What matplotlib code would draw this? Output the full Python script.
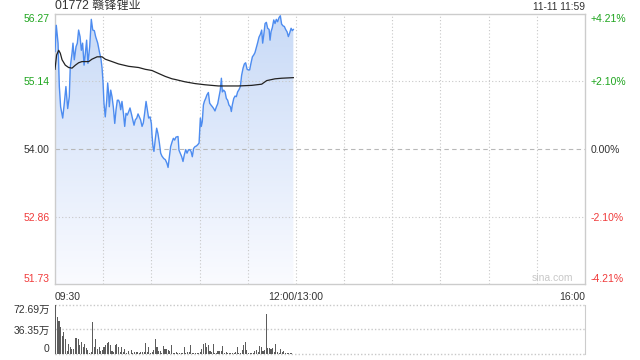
import numpy as np
import matplotlib
matplotlib.use("Agg")
import matplotlib.pyplot as plt
from matplotlib.colors import LinearSegmentedColormap
from matplotlib.patches import Polygon

# ---------------- data ----------------
title = "01772 赣锋锂业"
stamp = "11-11 11:59"
prev_close = 54.00
price_ticks = [51.73, 52.86, 54.00, 55.14, 56.27]
pct_labels = ["-4.21%", "-2.10%", "0.00%", "+2.10%", "+4.21%"]
time_labels = ["09:30", "12:00/13:00", "16:00"]
time_label_pos = [0, 150, 330]          # session minutes
vol_ticks = [0, 36.35, 72.69]
vol_labels = ["0", "36.35万", "72.69万"]

# minutes since 09:30 (trading minutes) and price
price_min = [
    0.0, 0.8, 1.9, 2.7, 3.5, 4.8, 5.8, 6.8, 7.9, 8.9, 9.5, 10.6, 11.2, 12.0, 13.1, 13.9,
    14.7, 15.6, 16.4, 17.2, 18.1, 18.9, 19.7, 20.5, 21.6, 22.6, 23.5, 24.5, 25.3, 26.6,
    27.6, 28.6, 29.3, 29.9, 30.5, 31.3, 32.2, 32.8, 33.4, 33.8, 34.7, 35.5, 36.3, 37.2,
    38.0, 38.8, 39.6, 40.3, 40.9, 41.7, 42.6, 43.4, 44.2, 45.0, 45.9, 46.7, 47.5, 48.4,
    49.2, 50.0, 50.9, 51.7, 52.5, 53.3, 54.2, 55.0, 55.8, 56.7, 57.5, 58.3, 59.2, 60.0,
    60.4, 61.0, 61.6, 62.5, 63.3, 64.1, 65.0, 65.8, 66.6, 67.7, 68.7, 69.7, 70.4, 71.2,
    72.0, 72.9, 73.7, 74.5, 75.3,
    76.6, 77.2, 78.0, 78.9, 79.7, 80.5, 81.4, 82.2, 83.0, 83.9, 84.7, 85.5, 86.3, 87.2,
    88.0, 88.8, 89.7, 90.5, 91.1, 91.7, 92.4, 93.0, 93.8, 94.6, 95.5, 96.3, 97.1, 98.0,
    98.8, 99.6, 100.5, 101.3, 102.1, 102.9, 103.6, 104.2, 105.0, 105.9, 106.7, 107.5,
    108.3, 109.2, 109.8, 110.4, 111.3, 112.1, 112.9, 113.7, 114.6, 115.4, 116.2, 117.1,
    117.9, 118.7, 119.6, 120.4, 121.2, 122.0, 122.9, 123.7, 124.5, 125.4, 126.2, 127.0,
    127.9, 128.7, 129.3, 129.9, 130.8, 131.6, 132.4, 133.3, 133.9, 134.5, 135.3, 136.2,
    137.0, 137.8, 138.6, 139.5, 140.3, 141.1, 142.0, 142.8, 143.6, 144.5, 145.3, 146.1,
    147.0, 147.8, 148.4,
]
price = [
    55.64, 56.08, 55.78, 55.05, 54.71, 54.52, 54.77, 55.05, 54.68, 54.88, 55.38, 55.61,
    55.78, 55.50, 55.72, 55.78, 56.00, 55.89, 55.66, 55.78, 55.41, 55.61, 55.83, 55.44,
    55.72, 56.18, 56.00, 55.99, 55.89, 55.78, 55.64, 55.52, 55.36, 55.13, 54.77, 54.54,
    54.82, 55.11, 54.94, 54.71, 54.99, 54.88, 54.71, 54.43, 54.66, 54.82, 54.82, 54.77,
    54.66, 54.80, 54.60, 54.38, 54.60, 54.57, 54.63, 54.69, 54.60, 54.49, 54.40, 54.49,
    54.52, 54.59, 54.54, 54.49, 54.38, 54.44, 54.60, 54.80, 54.66, 54.52, 54.54, 54.43,
    54.24, 54.04, 53.96, 54.18, 54.35, 54.26, 54.10, 53.93, 53.88, 53.84, 53.82, 53.76,
    53.69, 53.87, 54.04, 54.12, 54.18, 54.15, 54.20,
    54.21, 53.98, 53.93, 53.87, 53.79, 53.90, 53.99, 53.93, 53.98, 53.99, 53.96, 53.87,
    54.01, 54.04, 54.05, 54.07, 54.10, 54.52, 54.38, 54.46, 54.74, 54.80, 54.85, 54.91,
    54.95, 54.77, 54.74, 54.71, 54.68, 54.64, 54.71, 54.76, 54.88, 54.99, 55.19, 54.96,
    54.99, 54.96, 54.85, 54.82, 54.74, 54.71, 54.63, 54.74, 54.85, 54.89, 54.88, 54.96,
    55.00, 55.05, 55.24, 55.36, 55.43, 55.45, 55.34, 55.33, 55.33, 55.44, 55.55, 55.58,
    55.62, 55.71, 55.79, 55.88, 55.93, 56.00, 55.78, 55.90, 56.11, 56.13, 56.03, 56.01,
    55.83, 55.97, 56.04, 56.17, 56.11, 56.18, 56.14, 56.21, 56.24, 56.10, 56.07, 56.06,
    56.01, 55.97, 55.89, 55.95, 56.03, 55.99, 56.01,
]

avg_min = [0.0, 1.0, 2.3, 3.3, 4.4, 6.4, 8.5, 10.6, 12.7, 14.7, 16.8, 21.0, 23.0, 26.2,
           29.3, 31.3, 35.5, 39.6, 45.9, 52.1, 56.2, 60.4, 64.5, 68.7, 72.9, 74.7, 80.9,
           87.2, 93.4, 101.7, 114.2, 122.5, 128.7, 131.8, 137.0, 141.1, 148.4]
avg_price = [55.34, 55.58, 55.66, 55.61, 55.50, 55.41, 55.37, 55.36, 55.41, 55.45, 55.47,
             55.47, 55.51, 55.55, 55.55, 55.51, 55.47, 55.43, 55.39, 55.37, 55.34, 55.32,
             55.27, 55.22, 55.18, 55.17, 55.13, 55.10, 55.08, 55.06, 55.06, 55.07, 55.09,
             55.15, 55.18, 55.19, 55.20]

# volume per minute (万股)
volume = [
    72.7, 55, 49, 40, 27, 33, 22, 5, 15, 11,
    8, 8, 24, 24, 22, 13, 18, 11, 15, 9,
    6, 2, 3, 47, 10, 22, 7, 11, 4, 6, 11,
    14, 17, 18, 13, 5, 3, 13, 15, 11, 3,
    10, 3, 7, 2, 4, 0.5, 6, 2, 3, 3,
    3, 2, 3, 3, 3, 17, 3, 10, 2, 3,
    6, 22, 10, 4, 4, 2, 12, 7, 8, 6,
    4, 14, 1, 2,
    3, 2, 2, 2, 1, 10, 2, 3, 3, 13, 1, 2, 2, 1, 2, 3, 8, 15, 17, 11, 14, 4, 3, 15, 1, 2,
    4, 5, 4, 12, 2, 3, 1, 2, 2, 2, 1, 3, 11, 2, 2, 6, 13, 18, 6, 2, 2, 2, 2, 4, 6, 3, 12,
    10, 4, 6, 59, 9, 9, 7, 9, 3, 15, 3, 2, 7, 3, 4, 1, 1, 2, 1, 1, 0.5,
]

# ---------------- style ----------------
W, H = 640, 360
GREEN = "#1ea51e"
RED = "#f03a3a"
DARK = "#333333"
GRID = "#c8c8c8"
FRAME = "#cccccc"
LINE = "#4d8cf0"
FONT = ["Liberation Sans", "Noto Sans CJK SC", "DejaVu Sans"]
plt.rcParams["font.family"] = FONT

fig = plt.figure(figsize=(W / 100, H / 100), dpi=100)
fig.patch.set_facecolor("white")


def fx(px):
    return px / W


def fy(py):
    return 1 - py / H


# ---------------- main price axes ----------------
L, R, T, B = 55, 585, 14, 284
ax = fig.add_axes([fx(L), fy(B), (R - L) / W, (B - T) / H])
ymin, ymax = price_ticks[0], price_ticks[-1]
xmax = time_label_pos[-1]

verts = list(zip(price_min, price)) + [(price_min[-1], ymin), (price_min[0], ymin)]
patch = Polygon(verts, closed=True, facecolor="none", edgecolor="none")
ax.add_patch(patch)
cmap = LinearSegmentedColormap.from_list("g", ["#fafbff", "#c8daf7"])
grad = np.linspace(0, 1, 256).reshape(-1, 1)
im = ax.imshow(grad, extent=[0, xmax, ymin, ymax], origin="lower", aspect="auto",
               cmap=cmap, zorder=1, interpolation="bilinear")
im.set_clip_path(patch)

ax.plot(price_min, price, color=LINE, lw=1.0, zorder=4)
ax.plot(avg_min, avg_price, color="#222222", lw=0.9, zorder=5)

ax.set_xlim(0, xmax)
ax.set_ylim(ymin, ymax)

for v in price_ticks[1:-1]:
    if v == prev_close:
        ax.axhline(v, color="#b8b8b8", lw=0.8, ls=(0, (4, 3)), zorder=2)
    else:
        ax.axhline(v, color=GRID, lw=0.8, ls=(0, (1, 2)), zorder=2)
for m in range(30, xmax, 30):
    ax.axvline(m, color=GRID, lw=0.8, ls=(0, (1, 2)), zorder=2)

for s in ax.spines.values():
    s.set_color(FRAME)
    s.set_linewidth(1.0)

ax.set_xticks([])
ax.set_yticks(price_ticks)
ax.set_yticklabels([f"{v:.2f}" for v in price_ticks])
ax.tick_params(axis="y", length=0, pad=4, labelsize=7.5)
for lbl, v in zip(ax.get_yticklabels(), price_ticks):
    lbl.set_color(GREEN if v > prev_close else (RED if v < prev_close else DARK))
ax.get_yticklabels()[0].set_verticalalignment("bottom")
ax.get_yticklabels()[-1].set_verticalalignment("top")

ax2 = ax.twinx()
ax2.set_ylim(ymin, ymax)
ax2.set_yticks(price_ticks)
ax2.set_yticklabels(pct_labels)
ax2.tick_params(axis="y", length=0, pad=4, labelsize=7.5)
for lbl, v in zip(ax2.get_yticklabels(), price_ticks):
    lbl.set_color(GREEN if v > prev_close else (RED if v < prev_close else DARK))
ax2.get_yticklabels()[0].set_verticalalignment("bottom")
ax2.get_yticklabels()[-1].set_verticalalignment("top")
for s in ax2.spines.values():
    s.set_visible(False)

ax.text(0.977, 0.002, "sina.com", transform=ax.transAxes, ha="right", va="bottom",
        color="#c8c8c8", fontsize=7.5, zorder=6)

# x labels
for lab, pos in zip(time_labels, time_label_pos):
    ha = "left" if pos == 0 else ("right" if pos == xmax else "center")
    ax.annotate(lab, xy=(pos, 0), xycoords=("data", "axes fraction"),
                xytext=(0, -9), textcoords="offset points", ha=ha, va="center",
                fontsize=7.5, color=DARK)

# title & stamp
fig.text(fx(L), fy(7), title, ha="left", va="center", fontsize=8.7, color=DARK)
fig.text(fx(R), fy(7), stamp, ha="right", va="center", fontsize=7.4, color=DARK)

# ---------------- volume axes ----------------
VT, VB = 305, 354
axv = fig.add_axes([fx(L), fy(VB), (R - L) / W, (VB - VT) / H])
axv.bar(np.arange(len(volume)) + 0.5, volume, width=0.65, color="#5c5c5c",
        zorder=3, antialiased=False)
axv.set_xlim(0, xmax)
axv.set_ylim(vol_ticks[0], vol_ticks[-1])
for s in ["top", "bottom"]:
    axv.spines[s].set_visible(False)
for s in ["left", "right"]:
    axv.spines[s].set_color(FRAME)
for v in vol_ticks:
    axv.axhline(v, color=GRID, lw=1.0, ls=(0, (1, 1.5)), zorder=1, clip_on=False)
axv.set_xticks([])
axv.set_yticks(vol_ticks)
axv.set_yticklabels(vol_labels)
axv.tick_params(axis="y", length=0, pad=4, labelsize=7.5, labelcolor=DARK)
axv.get_yticklabels()[0].set_verticalalignment("bottom")
axv.get_yticklabels()[-1].set_verticalalignment("top")

fig.savefig("out.png", dpi=100, facecolor="white")
